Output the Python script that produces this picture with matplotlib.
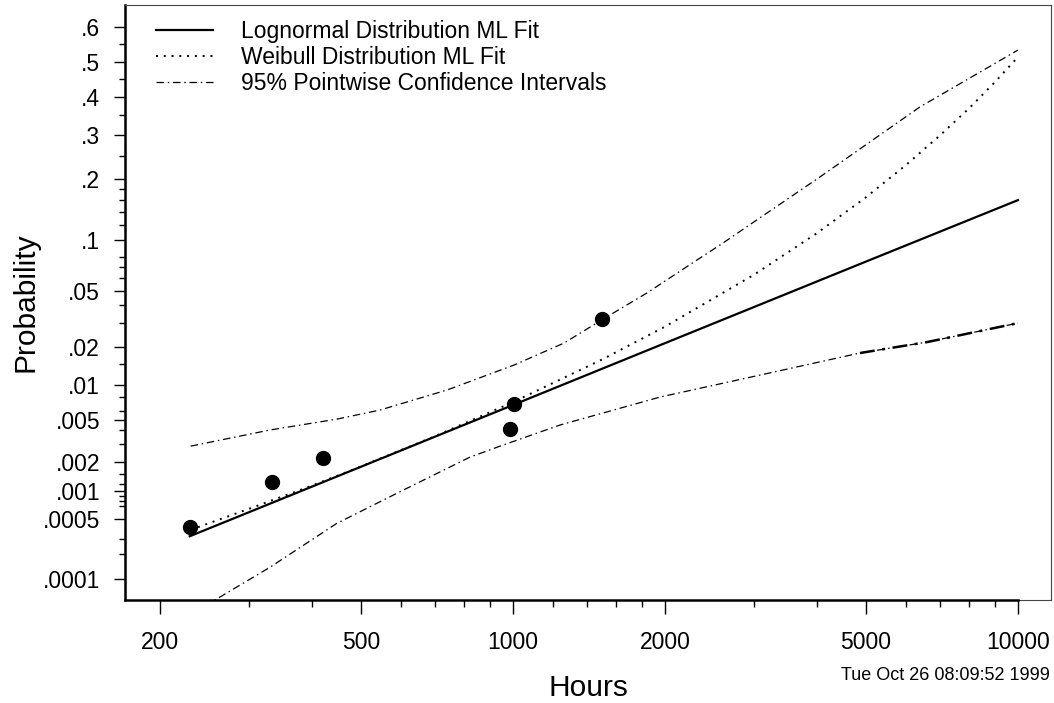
import math
import numpy as np
import matplotlib
matplotlib.use('Agg')
import matplotlib.pyplot as plt
from matplotlib.ticker import FixedLocator, FixedFormatter, NullFormatter

plt.rcParams['font.family'] = ['Liberation Sans', 'DejaVu Sans']

# observed failures
fail_hours = [229, 333, 421, 986, 1005, 1500]
fail_prob = [0.00041, 0.00125, 0.00218, 0.00412, 0.0069, 0.0321]

# lognormal ML fit (straight on this paper)
logn_hours = [229, 500, 1000, 2000, 5000, 10000]
logn_prob = [0.000321, 0.00179, 0.00678, 0.0215, 0.0754, 0.160]

# weibull ML fit
weib_hours = [230, 300, 400, 500, 700, 1000, 1500, 2000, 3000, 4000,
              5000, 6000, 7000, 8000, 9000, 10000]
weib_prob = [0.00038, 0.00065, 0.00115, 0.0018, 0.00353, 0.00718, 0.0161,
             0.0284, 0.0628, 0.109, 0.165, 0.229, 0.298, 0.369, 0.442, 0.514]

# 95% pointwise bands
upper_hours = [230, 330, 448, 545, 740, 1005, 1262, 1508, 1842, 2346, 2570,
               4055, 6396, 10000]
upper_prob = [0.00285, 0.00404, 0.00508, 0.00612, 0.00911, 0.01459, 0.02154,
              0.0321, 0.0482, 0.0791, 0.0938, 0.204, 0.373, 0.534]
lower_hours = [230, 263, 330, 448, 606, 822, 943, 1239, 1955, 3084, 4865,
               6604, 10000]
lower_prob = [3.5e-5, 5.9e-5, 1.38e-4, 4.5e-4, 0.00103, 0.00223, 0.00285,
              0.00449, 0.00794, 0.01212, 0.0181, 0.0219, 0.0301]

ymajor = [.6, .5, .4, .3, .2, .1, .05, .02, .01, .005, .002, .001, .0005, .0001]
ylabels = ['.6', '.5', '.4', '.3', '.2', '.1', '.05', '.02', '.01', '.005',
           '.002', '.001', '.0005', '.0001']
yminor = [.55, .45, .35, .25, .18, .16, .14, .12, .08, .07, .06, .04, .03,
          .015, .008, .006, .004, .003, .0015, .0012, .0009, .0008, .0007,
          .0003, .0002]
xmajor = [200, 500, 1000, 2000, 5000, 10000]
xminor = [300, 400, 600, 700, 800, 900, 1200, 1400, 1600, 1800,
          3000, 4000, 6000, 7000, 8000, 9000]


# normal quantile transform for the probability axis (Acklam approximation)
A = [-3.969683028665376e+01, 2.209460984245205e+02, -2.759285104469687e+02,
     1.383577518672690e+02, -3.066479806614716e+01, 2.506628277459239e+00]
B = [-5.447609879822406e+01, 1.615858368580409e+02, -1.556989798598866e+02,
     6.680131188771972e+01, -1.328068155288572e+01, 1.0]
C = [-7.784894002430293e-03, -3.223964580411365e-01, -2.400758277161838e+00,
     -2.549732539343734e+00, 4.374664141464968e+00, 2.938163982698783e+00]
D = [7.784695709041462e-03, 3.224671290700398e-01, 2.445134137142996e+00,
     3.754408661907416e+00, 1.0]


def ppf(p):
    p = np.clip(np.asarray(p, dtype=float), 1e-15, 1 - 1e-15)
    z = np.empty_like(p)
    lo = p < 0.02425
    hi = p > 1 - 0.02425
    mid = ~(lo | hi)
    q = np.sqrt(-2 * np.log(p[lo]))
    z[lo] = np.polyval(C, q) / np.polyval(D, q)
    q = np.sqrt(-2 * np.log(1 - p[hi]))
    z[hi] = -np.polyval(C, q) / np.polyval(D, q)
    q = p[mid] - 0.5
    r = q * q
    z[mid] = np.polyval(A, r) * q / np.polyval(B, r)
    return z


_erf = np.vectorize(math.erf)


def cdf(z):
    z = np.asarray(z, dtype=float)
    return 0.5 * (1 + _erf(z / math.sqrt(2)))


fig = plt.figure(figsize=(10.54, 7.03), dpi=100)
ax = fig.add_axes([0.1186, 0.1465, 0.8786, 0.8464])
ax.set_xscale('log')
ax.set_yscale('function', functions=(ppf, cdf))
ax.set_xlim(170.5, 11630)
ax.set_ylim(5.4e-5, 0.659)

dashdot = (0, (6, 3, 1.2, 3))
ax.plot(logn_hours, logn_prob, color='black', lw=1.6, label='Lognormal Distribution ML Fit')
ax.plot(weib_hours, weib_prob, color='black', lw=1.4, linestyle=(0, (1.0, 3.0)),
        label='Weibull Distribution ML Fit')
ax.plot(upper_hours, upper_prob, color='black', lw=0.9, linestyle=dashdot,
        label='95% Pointwise Confidence Intervals')
ax.plot(lower_hours, lower_prob, color='black', lw=0.9, linestyle=dashdot)
# right end of the lower band is drawn twice in the original, so it looks heavier
ax.plot(lower_hours[-3:], lower_prob[-3:], color='black', lw=1.8, linestyle=dashdot)
ax.plot(fail_hours, fail_prob, 'o', color='black', markersize=10, zorder=5)

ax.yaxis.set_major_locator(FixedLocator(ymajor))
ax.yaxis.set_major_formatter(FixedFormatter(ylabels))
ax.yaxis.set_minor_locator(FixedLocator(yminor))
ax.yaxis.set_minor_formatter(NullFormatter())
ax.xaxis.set_major_locator(FixedLocator(xmajor))
ax.xaxis.set_major_formatter(FixedFormatter([str(v) for v in xmajor]))
ax.xaxis.set_minor_locator(FixedLocator(xminor))
ax.xaxis.set_minor_formatter(NullFormatter())

ax.tick_params(axis='y', which='major', direction='out', length=8, width=1, pad=10, labelsize=16.5)
ax.tick_params(axis='y', which='minor', direction='out', length=4, width=1)
ax.tick_params(axis='x', which='major', direction='out', length=10, width=1, pad=12, labelsize=16.5)
ax.tick_params(axis='x', which='minor', direction='out', length=5, width=1)

for side in ['top', 'right']:
    ax.spines[side].set_linewidth(0.8)
    ax.spines[side].set_color('#444444')
ax.spines['left'].set_linewidth(1.8)
ax.spines['bottom'].set_linewidth(1.8)
ax.spines['bottom'].set_bounds(170.5, 10000)
ax.plot([10000, 11630], [5.4e-5, 5.4e-5], color='#444444', lw=0.8, clip_on=False)

ax.legend(loc='upper left', bbox_to_anchor=(0.0086, 1.0134), frameon=False, fontsize=16.5,
          handlelength=2.5, handletextpad=1.22, labelspacing=0.14, borderaxespad=0.6)

fig.text(588 / 1054, 1 - 688 / 703, 'Hours', ha='center', va='center', fontsize=21.5)
fig.text(26 / 1054, 1 - 302 / 703, 'Probability', ha='center', va='center',
         rotation=90, fontsize=21.5)
fig.text(1050 / 1054, 1 - 675 / 703, 'Tue Oct 26 08:09:52 1999', ha='right', va='center',
         fontsize=13)

fig.savefig('out.png', dpi=100)
